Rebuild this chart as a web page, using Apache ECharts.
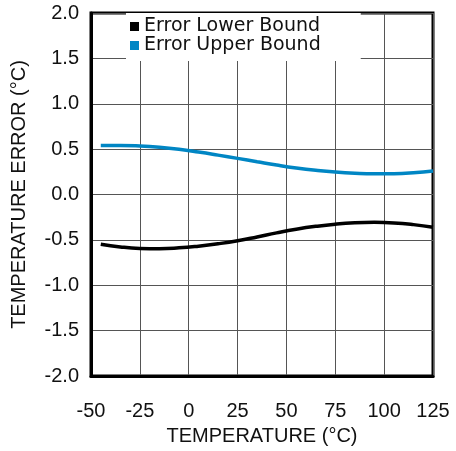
<!DOCTYPE html>
<html>
<head>
<meta charset="utf-8">
<script src="https://cdn.jsdelivr.net/npm/echarts@6/dist/echarts.min.js"></script>
<style>
html,body{margin:0;padding:0;background:#fff;}
#chart{width:456px;height:451px;}
</style>
</head>
<body>
<div id="chart"></div>
<script>
var temps = [-45, -35, -25, -15, -5, 5, 15, 25, 35, 45, 55, 65, 75, 85, 95, 105, 115, 125];
var upperBound = [0.54, 0.54, 0.534, 0.52, 0.498, 0.468, 0.434, 0.398, 0.361, 0.325, 0.293, 0.267, 0.247, 0.234, 0.228, 0.23, 0.24, 0.258];
var lowerBound = [-0.548, -0.578, -0.594, -0.597, -0.588, -0.569, -0.543, -0.51, -0.468, -0.423, -0.383, -0.351, -0.327, -0.312, -0.307, -0.313, -0.332, -0.362];
var xTicks = [-50, -25, 0, 25, 50, 75, 100, 125];
var yTicks = [-2.0, -1.5, -1.0, -0.5, 0.0, 0.5, 1.0, 1.5, 2.0];
var seriesNames = ['Error Lower Bound', 'Error Upper Bound'];
var seriesColors = ['#000000', '#0086c4'];

function pairs(xs, ys) { return xs.map(function (x, i) { return [x, ys[i]]; }); }

var chart = echarts.init(document.getElementById('chart'));
var font = 'Liberation Sans, Arial, sans-serif';
var textColor = '#111';
chart.setOption({
  animation: false,
  backgroundColor: '#ffffff',
  grid: { left: 91, right: 23, top: 13, bottom: 75, show: true, borderColor: '#000', borderWidth: 3, backgroundColor: 'transparent' },
  legend: {
    orient: 'vertical',
    left: 126, top: 13,
    backgroundColor: '#ffffff',
    padding: [4, 40, 6, 4],
    itemGap: 0,
    itemWidth: 9, itemHeight: 9,
    icon: 'rect',
    textStyle: { fontFamily: 'DejaVu Sans, sans-serif', fontSize: 19, color: textColor, lineHeight: 18 },
    data: seriesNames
  },
  xAxis: {
    type: 'value', min: xTicks[0], max: xTicks[xTicks.length - 1], interval: 25,
    name: 'TEMPERATURE (°C)', nameLocation: 'middle', nameGap: 50,
    nameTextStyle: { fontFamily: font, fontSize: 20, color: textColor },
    axisLine: { show: true, onZero: false, lineStyle: { color: '#000', width: 3 } },
    axisTick: { show: false },
    axisLabel: { fontFamily: font, fontSize: 20, color: textColor, margin: 25 },
    splitLine: { show: true, lineStyle: { color: '#555', width: 1 } }
  },
  yAxis: {
    type: 'value', min: yTicks[0], max: yTicks[yTicks.length - 1], interval: 0.5,
    name: 'TEMPERATURE ERROR (°C)', nameLocation: 'middle', nameGap: 62,
    nameTextStyle: { fontFamily: font, fontSize: 20, color: textColor },
    axisLine: { show: true, onZero: false, lineStyle: { color: '#000', width: 3 } },
    axisTick: { show: false },
    axisLabel: { fontFamily: font, fontSize: 20, color: textColor, margin: 12, formatter: function (v) { return v.toFixed(1); } },
    splitLine: { show: true, lineStyle: { color: '#555', width: 1 } }
  },
  series: [
    { name: seriesNames[0], type: 'line', smooth: true, showSymbol: false, data: pairs(temps, lowerBound),
      lineStyle: { color: seriesColors[0], width: 3.5 }, itemStyle: { color: seriesColors[0] } },
    { name: seriesNames[1], type: 'line', smooth: true, showSymbol: false, data: pairs(temps, upperBound),
      lineStyle: { color: seriesColors[1], width: 3.5 }, itemStyle: { color: seriesColors[1] } }
  ]
});
</script>
</body>
</html>
